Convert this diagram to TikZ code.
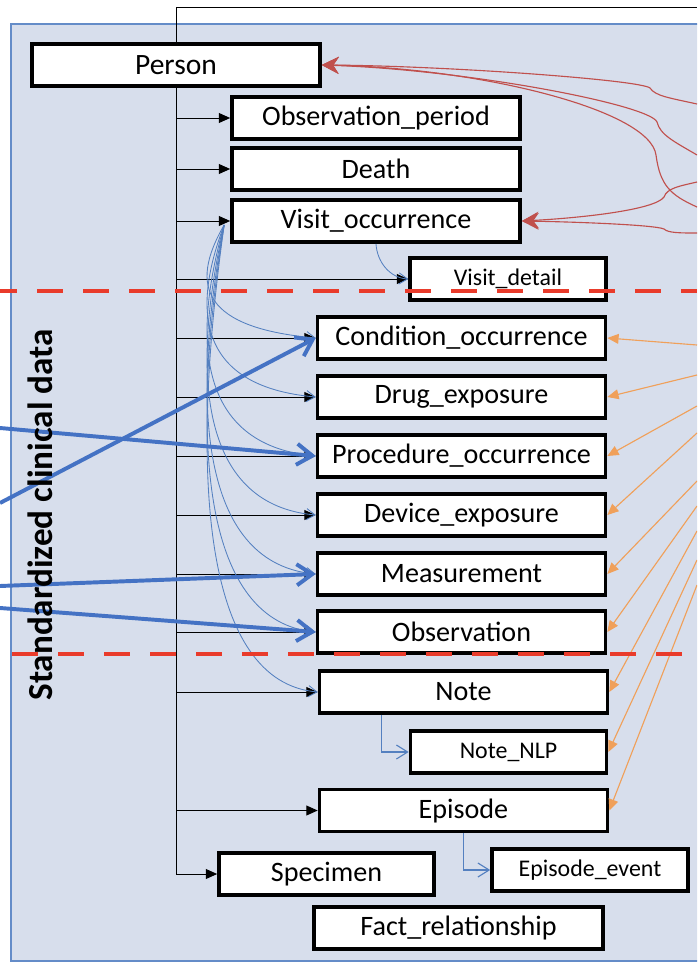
\documentclass[tikz,border=0pt]{standalone}
\usepackage{fontspec}
\setmainfont{Carlito}
\usetikzlibrary{arrows.meta}

\definecolor{panelfill}{RGB}{215,222,236}
\definecolor{paneledge}{RGB}{100,140,200}
\definecolor{splitred}{RGB}{233,59,43}
\definecolor{linkred}{RGB}{192,80,77}
\definecolor{linkorange}{RGB}{240,160,90}
\definecolor{linkblue}{RGB}{68,114,196}
\definecolor{fanblue}{RGB}{84,128,192}

\begin{document}
\begin{tikzpicture}[>={Triangle[length=8pt,width=7pt]},
  tbl/.style={draw, rectangle, fill=white, line width=2.6pt, minimum width=7.2cm, minimum height=1.05cm, font=\fontsize{20}{24}\selectfont},
  subtbl/.style={tbl, minimum width=4.9cm, font=\fontsize{17}{20}\selectfont},
  fk/.style={->, line width=0.7pt},
  fan/.style={-{Straight Barb[length=6pt,width=8pt]}, fanblue, line width=0.6pt},
  elbow/.style={-{Straight Barb[length=8pt,width=10pt]}, fanblue, line width=0.8pt},
  feed/.style={-{Straight Barb[length=11pt,width=15pt]}, linkblue, line width=2.8pt},
  vocab/.style={-{Triangle[length=8pt,width=7pt]}, linkorange, line width=0.8pt},
  redlink/.style={-{Stealth[length=12pt,width=12pt,inset=4pt]}, linkred, line width=0.8pt},
  split/.style={splitred, line width=3.2pt, dash pattern=on 0.65cm off 0.5cm}]

\useasboundingbox (0,0) rectangle (17.425,-24.075);
\clip (0,0) rectangle (17.425,-24.075);

% panel
\fill[panelfill, draw=paneledge, line width=2pt] (0.275,-0.6) rectangle (18,-24.025);

% tables
\node[tbl, font=\fontsize{21}{25}\selectfont] (Person) at (4.4,-1.625) {Person};
\node[tbl] (ObsPeriod) at (9.4,-2.95) {Observation\_period};
\node[tbl] (Death) at (9.4,-4.225) {Death};
\node[tbl] (Visit) at (9.4,-5.525) {Visit\_occurrence};
\node[subtbl] (VisitDetail) at (12.7,-6.975) {Visit\_detail};
\node[tbl] (Condition) at (11.5375,-8.45) {Condition\_occurrence};
\node[tbl] (Drug) at (11.5375,-9.925) {Drug\_exposure};
\node[tbl] (Procedure) at (11.5375,-11.4) {Procedure\_occurrence};
\node[tbl] (Device) at (11.5375,-12.875) {Device\_exposure};
\node[tbl] (Measurement) at (11.5375,-14.35) {Measurement};
\node[tbl] (Observation) at (11.5375,-15.8) {Observation};
\node[tbl] (Note) at (11.5875,-17.3) {Note};
\node[subtbl] (NoteNLP) at (12.7125,-18.8) {Note\_NLP};
\node[tbl] (Episode) at (11.5875,-20.2625) {Episode};
\node[tbl, minimum width=5.375cm] (Specimen) at (8.1625,-21.85) {Specimen};
\node[subtbl] (EpisodeEvent) at (14.75,-21.75) {Episode\_event};
\node[tbl, minimum width=7.225cm] (FactRel) at (11.4625,-23.2) {Fact\_relationship};

% loose ends
\coordinate (topright) at (17.425,-0.175);
\coordinate (r1) at (17.425,-2.6);
\coordinate (r2) at (17.425,-3.875);
\coordinate (r3) at (17.425,-5.175);
\coordinate (r4) at (17.425,-4.55);
\coordinate (r5) at (17.425,-5.825);
\coordinate (o1) at (17.425,-8.625);
\coordinate (o2) at (17.425,-9.375);
\coordinate (o3) at (17.425,-10.15);
\coordinate (o4) at (17.425,-10.825);
\coordinate (o5) at (17.425,-12.025);
\coordinate (o6) at (17.425,-12.65);
\coordinate (o7) at (17.425,-13.275);
\coordinate (o8) at (17.425,-14.0);
\coordinate (o9) at (17.425,-14.625);
\coordinate (b1) at (0,-12.575);
\coordinate (b2) at (0,-10.7);
\coordinate (b3) at (0,-14.65);
\coordinate (b4) at (0,-15.2);

% person_id links
\draw[line width=0.7pt] (Person.north) |- (topright);
\draw[fk] (Person.south) |- (Specimen.west);
\draw[fk] (Person.south |- ObsPeriod.west) -- (ObsPeriod.west);
\draw[fk] (Person.south |- Death.west) -- (Death.west);
\draw[fk] (Person.south |- Visit.west) -- (Visit.west);
\draw[fk] (Person.south |- VisitDetail.west) -- (VisitDetail.west);
\draw[fk] (Person.south |- Condition.west) -- (Condition.west);
\draw[fk] (Person.south |- Drug.west) -- (Drug.west);
\draw[fk] (Person.south |- Procedure.west) -- (Procedure.west);
\draw[fk] (Person.south |- Device.west) -- (Device.west);
\draw[fk] (Person.south |- Measurement.west) -- (Measurement.west);
\draw[fk] (Person.south |- Observation.west) -- (Observation.west);
\draw[fk] (Person.south |- Note.west) -- (Note.west);
\draw[fk] (Person.south |- Episode.west) -- (Episode.west);

% visit links
\draw[fan] (Visit.south) .. controls (9.425,-6.55) and (9.75,-6.95) .. (VisitDetail.west);
\draw[fan] ([xshift=-0.15cm,yshift=-0.1cm]Visit.west) .. controls (4.7,-7.18) and (5.125,-8.2) .. (Condition.west);
\draw[fan] ([xshift=-0.15cm,yshift=-0.1cm]Visit.west) .. controls (4.7,-7.99) and (5.125,-9.675) .. (Drug.west);
\draw[fan] ([xshift=-0.15cm,yshift=-0.1cm]Visit.west) .. controls (4.7,-8.8) and (5.125,-11.15) .. (Procedure.west);
\draw[fan] ([xshift=-0.15cm,yshift=-0.1cm]Visit.west) .. controls (4.7,-9.61) and (5.125,-12.625) .. (Device.west);
\draw[fan] ([xshift=-0.15cm,yshift=-0.1cm]Visit.west) .. controls (4.7,-10.43) and (5.125,-14.1) .. (Measurement.west);
\draw[fan] ([xshift=-0.15cm,yshift=-0.1cm]Visit.west) .. controls (4.7,-11.22) and (5.125,-15.55) .. (Observation.west);
\draw[fan] ([xshift=-0.15cm,yshift=-0.1cm]Visit.west) .. controls (4.7,-12.05) and (5.125,-17.05) .. (Note.west);
\draw[elbow] ([xshift=-2.06cm]Note.south) |- (NoteNLP.west);
\draw[elbow] (Episode.south) |- (EpisodeEvent.west);

% sources from the left
\draw[feed] (b1) -- (Condition.west);
\draw[feed] (b2) -- (Procedure.west);
\draw[feed] (b3) -- (Measurement.west);
\draw[feed] (b4) -- (Observation.west);

% vocabulary links
\draw[vocab] (o1) -- (Condition.east);
\draw[vocab] (o2) -- (Drug.east);
\draw[vocab] (o3) -- (Procedure.east);
\draw[vocab] (o4) -- (Device.east);
\draw[vocab] (o5) -- (Measurement.east);
\draw[vocab] (o6) -- (Observation.east);
\draw[vocab] (o7) -- (Note.east);
\draw[vocab] (o8) -- (NoteNLP.east);
\draw[vocab] (o9) -- (Episode.east);

% links from health system tables
\draw[redlink] (r1) .. controls (16.75,-2.45) and (16.375,-2.4) .. (16.25,-2.2) .. controls (16.0,-2.0) and (11.25,-1.65) .. (Person.east);
\draw[redlink] (r2) .. controls (16.875,-3.55) and (16.5,-3.375) .. (16.425,-3.05) .. controls (16.25,-2.625) and (11.75,-1.75) .. (Person.east);
\draw[redlink] (r3) .. controls (16.75,-4.875) and (16.5,-4.625) .. (16.4,-3.875) .. controls (16.25,-2.75) and (12.0,-1.7) .. (Person.east);
\draw[redlink] (r4) .. controls (17.0,-4.65) and (16.675,-4.7) .. (16.6,-4.925) .. controls (16.375,-5.25) and (14.5,-5.45) .. (Visit.east);
\draw[redlink] (r5) .. controls (17.0,-5.825) and (16.7,-5.825) .. (16.6,-5.725) .. controls (16.375,-5.625) and (14.5,-5.55) .. (Visit.east);

% domain split
\draw[split, dash phase=0.225cm] (0,-7.275) -- (17.425,-7.275);
\draw[split] (0.3,-16.35) -- (17.425,-16.35);

\node[rotate=90, font=\bfseries\fontsize{25}{30}\selectfont] (domain) at (1.0125,-12.875) {Standardized clinical data};
\end{tikzpicture}
\end{document}
